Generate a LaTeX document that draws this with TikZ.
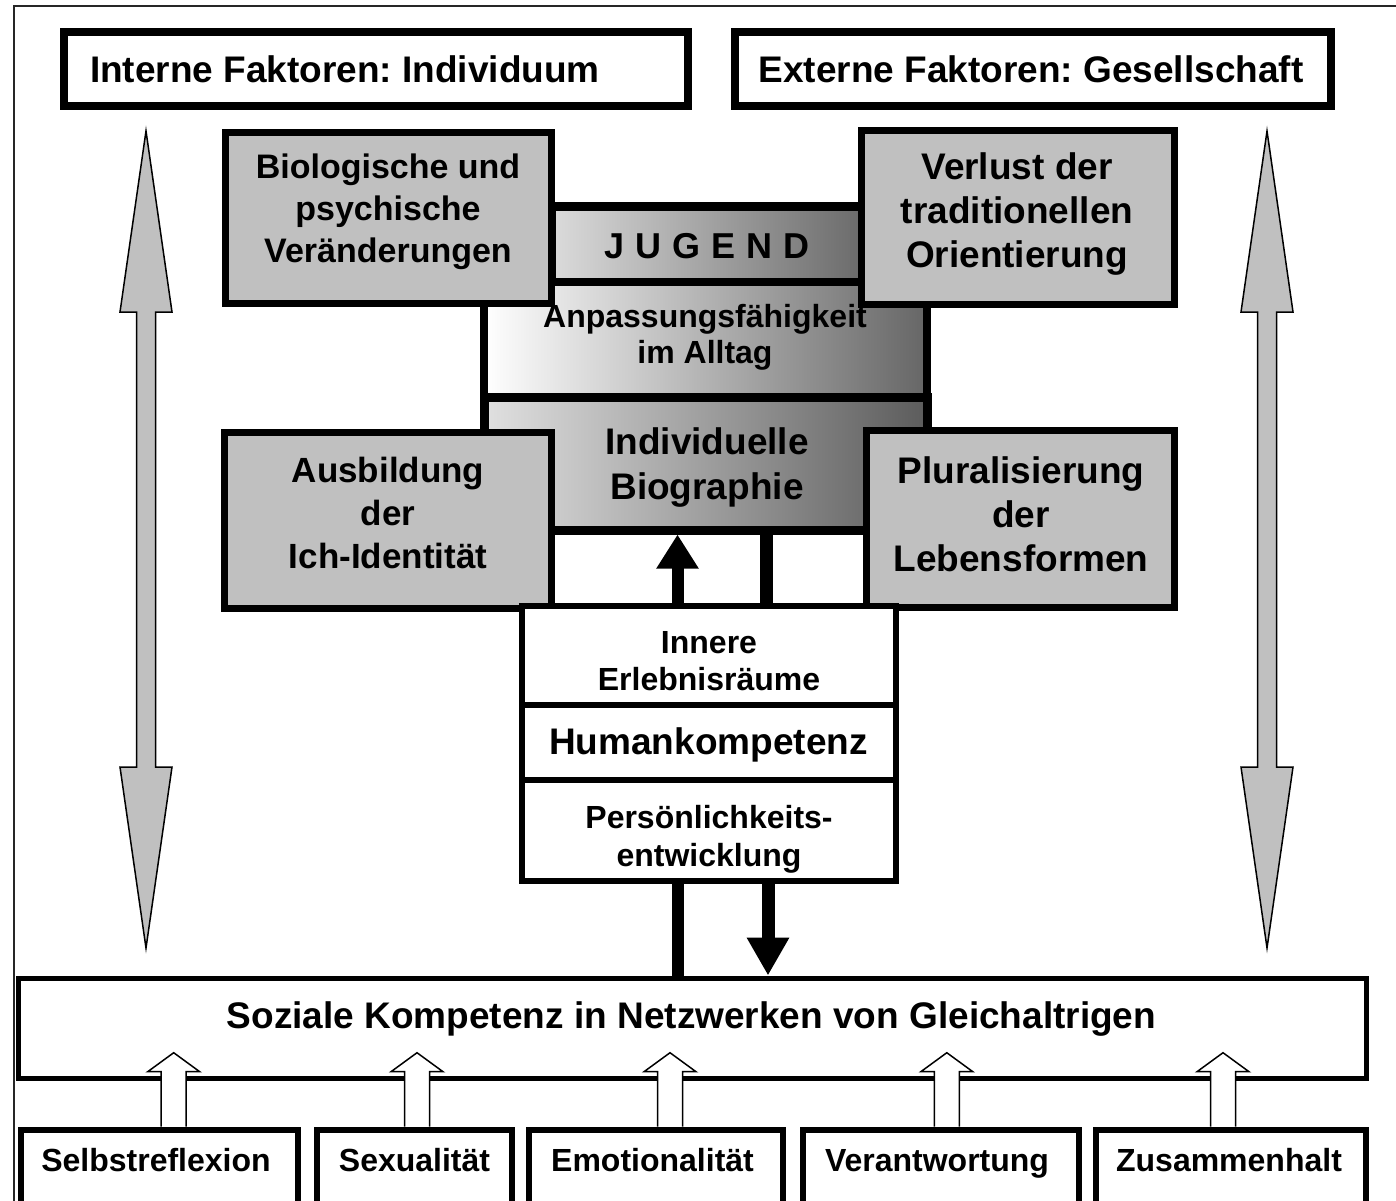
\documentclass[tikz,border=0pt]{standalone}
\usepackage{fontspec}
\setmainfont{Liberation Sans}
\usetikzlibrary{arrows.meta}
\frenchspacing
\definecolor{greyfill}{RGB}{192,192,192}
\definecolor{jl}{gray}{0.86}
\definecolor{jr}{gray}{0.42}
\definecolor{al}{gray}{1.0}
\definecolor{ar}{gray}{0.40}
\definecolor{il}{gray}{0.88}
\definecolor{ir}{gray}{0.36}
\begin{document}
\begin{tikzpicture}[x=1pt,y=-1pt,
  frame/.style={draw=black, line width=#1, fill=white, inner sep=0},
  greybox/.style={draw=black, line width=7, fill=greyfill, inner sep=0},
  txt/.style 2 args={font=\fontsize{#1}{#2}\selectfont\bfseries, align=center, inner sep=0, outer sep=0},
  grarrow/.style={draw=black, line width=1.5, fill=greyfill, line join=miter},
  hollow/.style={draw=black, line width=1.5, fill=white, line join=miter},
  dblarrow/.pic={\path[grarrow] (0,131) -- (26,312) -- (9.5,312) -- (9.5,767) -- (26,767) -- (0,948) -- (-26,767) -- (-9.5,767) -- (-9.5,312) -- (-26,312) -- cycle;},
  hup/.pic={\path[hollow] (-12.5,0) -- (-12.5,-55) -- (-26,-55) -- (0,-74) -- (26,-55) -- (12.5,-55) -- (12.5,0);}
]
\useasboundingbox (0,0) rectangle (1396,1200);
\fill[white] (0,0) rectangle (1396,1200);
% outer frame
\draw[line width=2, black!85] (14,1215) -- (14,6) -- (1420,6);

% grey double arrows
\pic at (146,0) {dblarrow};
\pic at (1267,0) {dblarrow};

% top boxes
\node[frame=8, minimum width=624, minimum height=74] (interne) at (376,69) {};
\node[frame=8, minimum width=596, minimum height=74] (externe) at (1033,69) {};

% central gradient column
\node[draw=black, line width=9, inner sep=0, left color=jl, right color=jr, minimum width=311, minimum height=75.5] (jugend) at (706.5,244.25) {};
\node[draw=black, line width=8, inner sep=0, left color=al, right color=ar, minimum width=443, minimum height=115] (anp) at (705.5,339.5) {};
\node[draw=black, line width=9, inner sep=0, left color=il, right color=ir, minimum width=443, minimum height=133] (indiv) at (705.5,463.5) {};

% grey boxes
\node[greybox, minimum width=326, minimum height=170.5] (bio) at (388,217.75) {};
\node[greybox, minimum width=312.5, minimum height=173.5] (verlust) at (1017.75,217.25) {};
\node[greybox, minimum width=327, minimum height=176] (ausb) at (387.5,520) {};
\node[greybox, minimum width=308, minimum height=176.5] (plural) at (1020,518.75) {};

% inner stack
\node[frame=6, minimum width=373.5, minimum height=99] (innere) at (708.75,655) {};
\node[frame=6, minimum width=373.5, minimum height=75.5] (human) at (708.75,742.25) {};
\node[frame=6, minimum width=373.5, minimum height=101] (pers) at (708.75,830.5) {};

% social box and bottom boxes
\node[frame=5, minimum width=1348, minimum height=100] (soz) at (692,1028) {};
\node[frame=6, minimum width=277.5, minimum height=85.3] (b1) at (159.25,1172.35) {};
\node[frame=6, minimum width=195.1, minimum height=85.3] (b2) at (414.05,1172.35) {};
\node[frame=6, minimum width=254.4, minimum height=85.3] (b3) at (656.2,1172.35) {};
\node[frame=6, minimum width=276, minimum height=85.3] (b4) at (941,1172.35) {};
\node[frame=6, minimum width=270, minimum height=85.3] (b5) at (1231,1172.35) {};

% connectors in the centre
\coordinate (c1) at (677.5,0);
\coordinate (c2) at (766.7,0);
\coordinate (c3) at (768,0);
\draw[line width=12, -{Triangle[width=40pt,length=34pt]}] (innere.north -| c1) -- (indiv.south -| c1);
\draw[line width=13] (innere.north -| c2) -- (indiv.south -| c2);
\draw[line width=12] (pers.south -| c1) -- (soz.north -| c1);
\draw[line width=13, -{Triangle[width=40pt,length=38pt]}] (pers.south -| c3) -- (soz.north -| c3);

% hollow arrows from bottom boxes
\coordinate (h1) at (173.7,0);
\coordinate (h2) at (417,0);
\coordinate (h3) at (670,0);
\coordinate (h4) at (946.8,0);
\coordinate (h5) at (1223,0);
\pic at (b1.north -| h1) {hup};
\pic at (b2.north -| h2) {hup};
\pic at (b3.north -| h3) {hup};
\pic at (b4.north -| h4) {hup};
\pic at (b5.north -| h5) {hup};

% texts
\node[txt={37}{44}, anchor=west] (interneT) at (90,69) {Interne Faktoren: Individuum};
\node[txt={37}{44}] (externeT) at (1031,69) {Externe Faktoren: Gesellschaft};
\node[txt={34}{42}] (bioT) at (388,212) {Biologische und\\psychische\\Veränderungen};
\node[txt={37}{44}] (verT) at (1017,214) {Verlust der\\traditionellen\\Orientierung};
\node[txt={35}{43}] (ausT) at (388,513) {Ausbildung\\der\\Ich-Identität};
\node[txt={37}{44}] (pluT) at (1021,514) {Pluralisierung\\der\\Lebensformen};
\node[txt={36}{44}] (jugT) at (707,246) {J\hspace{11pt}U\hspace{11pt}G\hspace{11pt}E\hspace{11pt}N\hspace{11pt}D};
\node[txt={32}{36}] (anpT) at (705,337) {Anpassungsfähigkeit\\im Alltag};
\node[txt={37}{45}] (indT) at (707,468) {Individuelle\\Biographie};
\node[txt={32}{37}] (innT) at (709,661) {Innere\\Erlebnisräume};
\node[txt={37}{44}] (humT) at (708.5,745) {Humankompetenz};
\node[txt={32}{38}] (perT) at (709,839) {Persönlichkeits-\\entwicklung};
\node[txt={37}{44}] (sozT) at (691.5,1019) {Soziale Kompetenz in Netzwerken von Gleichaltrigen};
\node[txt={32}{38}, anchor=base] (b1T) at (156,1171.5) {Selbstreflexion};
\node[txt={32}{38}, anchor=base] (b2T) at (414.5,1171.5) {Sexualität};
\node[txt={32}{38}, anchor=base] (b3T) at (652.5,1171.5) {Emotionalität};
\node[txt={32}{38}, anchor=base] (b4T) at (937,1171.5) {Verantwortung};
\node[txt={32}{38}, anchor=base] (b5T) at (1229,1171.5) {Zusammenhalt};
\end{tikzpicture}
\end{document}
